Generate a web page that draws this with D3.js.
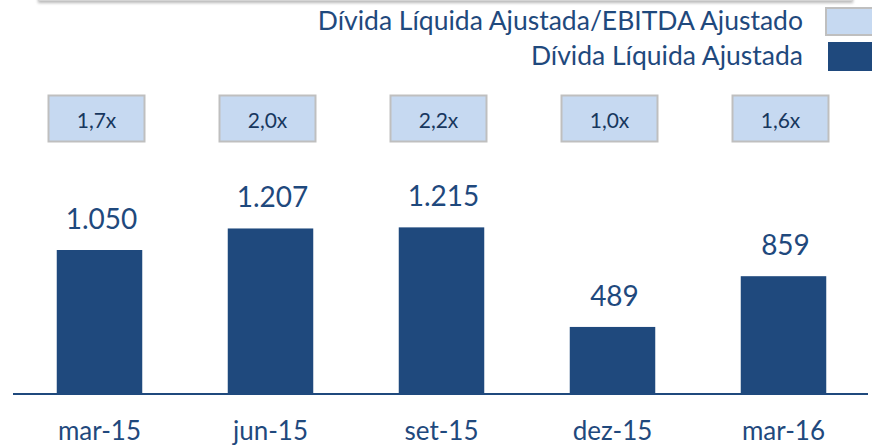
<!DOCTYPE html>
<html>
<head>
<meta charset="utf-8">
<script src="https://cdn.jsdelivr.net/npm/d3@7"></script>
<style>
  html, body { margin: 0; padding: 0; background: #fff; }
  svg { display: block; }
  text { font-family: Lato, "Open Sans", sans-serif; }
</style>
</head>
<body>
<svg id="chart" width="872" height="445"></svg>
<script>
const categories = ["mar-15", "jun-15", "set-15", "dez-15", "mar-16"];
const debtValues = [1050, 1207, 1215, 489, 859];
const debtLabels = ["1.050", "1.207", "1.215", "489", "859"];
const ratioLabels = ["1,7x", "2,0x", "2,2x", "1,0x", "1,6x"];
const legendLabels = ["Dívida Líquida Ajustada/EBITDA Ajustado", "Dívida Líquida Ajustada"];

const W = 872, H = 445;
const barColor = "#1F497D";
const textColor = "#1F497D";
const boxFill = "#C6D9F1";
const boxStroke = "#BFBFBF";
const boxText = "#17375E";

const svg = d3.select("#chart");

// top shadow strip (remnant of a frame above)
const defs = svg.append("defs");
const f = defs.append("filter").attr("id", "blur").attr("x", "-5%").attr("y", "-200%").attr("width", "110%").attr("height", "500%");
f.append("feGaussianBlur").attr("stdDeviation", 1.6);
svg.append("rect").attr("x", 38).attr("y", -6).attr("width", 815).attr("height", 9)
  .attr("fill", "#b8b8b8").attr("filter", "url(#blur)");
svg.append("rect").attr("x", 38).attr("y", -6).attr("width", 815).attr("height", 7)
  .attr("fill", "#d4d4d4");

const baseline = 394;
const x = d3.scaleBand().domain(categories).range([14, 869])
  .paddingInner(0.5).paddingOuter(0.25);
const y = d3.scaleLinear().domain([0, 1050]).range([baseline, 250]);

// bars
svg.append("g").selectAll("rect").data(categories).join("rect")
  .attr("x", d => x(d))
  .attr("y", (d, i) => y(debtValues[i]))
  .attr("width", x.bandwidth())
  .attr("height", (d, i) => baseline - y(debtValues[i]))
  .attr("fill", barColor);

// baseline axis
const axis = d3.axisBottom(x).tickSize(0).tickPadding(0);
const gAxis = svg.append("g").attr("transform", `translate(0,${baseline})`).call(axis);
gAxis.select(".domain").attr("stroke", barColor).attr("stroke-width", 2.2).attr("d", "M13,0H868");
gAxis.selectAll(".tick text")
  .attr("y", 46).attr("dy", null)
  .attr("font-family", "Lato, sans-serif")
  .attr("font-size", 26).attr("fill", textColor);

// value labels
svg.append("g").selectAll("text").data(categories).join("text")
  .attr("x", d => x(d) + x.bandwidth() / 2 + 2)
  .attr("y", (d, i) => y(debtValues[i]) - 21)
  .attr("text-anchor", "middle")
  .attr("font-size", 28)
  .attr("fill", textColor)
  .text((d, i) => debtLabels[i]);

// ratio boxes
const boxW = 96, boxH = 46, boxY = 95.5;
const gBox = svg.append("g").selectAll("g").data(categories).join("g")
  .attr("transform", d => `translate(${x(d) + x.bandwidth() / 2 - 3},0)`);
gBox.append("rect")
  .attr("x", -boxW / 2).attr("y", boxY).attr("width", boxW).attr("height", boxH)
  .attr("fill", boxFill).attr("stroke", boxStroke).attr("stroke-width", 2);
gBox.append("text")
  .attr("x", 0).attr("y", 127.5)
  .attr("text-anchor", "middle")
  .attr("font-size", 21)
  .attr("fill", boxText)
  .text((d, i) => ratioLabels[i]);

// legend
const lg = svg.append("g");
lg.append("text").attr("x", 803).attr("y", 30).attr("text-anchor", "end")
  .attr("font-size", 26.5).attr("fill", textColor).text(legendLabels[0]);
lg.append("text").attr("x", 803).attr("y", 65).attr("text-anchor", "end")
  .attr("font-size", 26.5).attr("fill", textColor).text(legendLabels[1]);
lg.append("rect").attr("x", 826).attr("y", 8).attr("width", 50).attr("height", 27)
  .attr("fill", boxFill).attr("stroke", boxStroke).attr("stroke-width", 2);
lg.append("rect").attr("x", 828).attr("y", 42).attr("width", 50).attr("height", 29)
  .attr("fill", barColor);
</script>
</body>
</html>
